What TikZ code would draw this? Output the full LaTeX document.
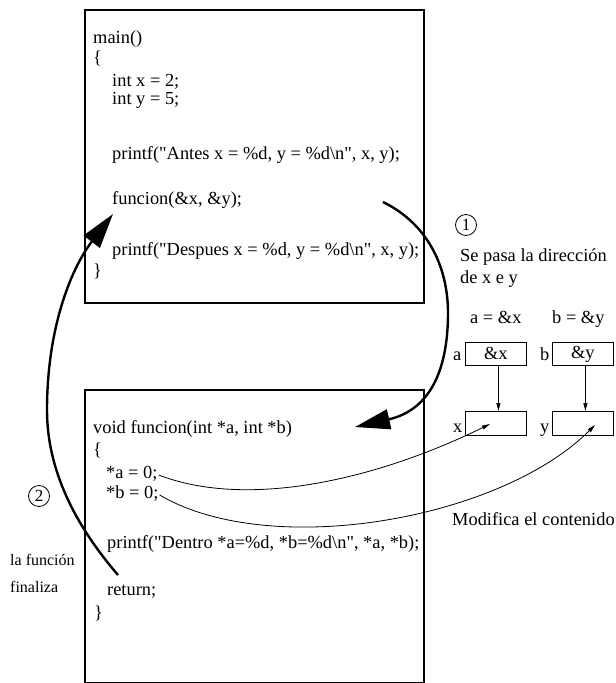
\documentclass[tikz,border=0pt]{standalone}
\usepackage{fontspec}
\newfontfamily\codefont{Liberation Serif}
\usetikzlibrary{arrows.meta}
\begin{document}
\begin{tikzpicture}[x=1pt,y=-1pt,
  code/.style={anchor=base west, inner sep=0pt, font=\codefont\fontsize{18.4}{21}\selectfont},
  small/.style={anchor=base west, inner sep=0pt, font=\codefont\fontsize{16}{18}\selectfont},
  bigbox/.style={draw, line width=2pt, anchor=north west, inner sep=0pt},
  cell/.style={draw, line width=0.8pt, anchor=north west, inner sep=0pt, minimum width=61pt, minimum height=23pt, font=\codefont\fontsize{18.4}{21}\selectfont},
  num/.style={draw, circle, line width=0.8pt, minimum size=21pt, inner sep=0pt, font=\codefont\fontsize{17}{19}\selectfont},
  bigarrow/.style={line width=2.4pt, -{Triangle[length=35pt,width=20pt]}},
  thinarrow/.style={line width=0.8pt, -{Triangle[length=8pt,width=4pt]}}]
\useasboundingbox (0,0) rectangle (616,683);
% boxes
\node[bigbox, minimum width=339pt, minimum height=293pt] (mainbox) at (84,9) {};
\node[bigbox, minimum width=339pt, minimum height=293pt] (funbox) at (84,389) {};
% main code
\node[code] (m1) at (93,43) {main()};
\node[code] (m2) at (93,63) {\{};
\node[code] (m3) at (112,86) {int x = 2;};
\node[code] (m4) at (112,104) {int y = 5;};
\node[code] (m5) at (112,159) {printf("Antes x = \%d, y = \%d\textbackslash n", x, y);};
\node[code] (m6) at (112,204) {funcion(\&x, \&y);};
\node[code] (m7) at (112,255) {printf("Despues x = \%d, y = \%d\textbackslash n", x, y);};
\node[code] (m8) at (93,276) {\}};
% funcion code
\node[code] (f1) at (93,433) {void funcion(int *a, int *b)};
\node[code] (f2) at (93,455) {\{};
\node[code] (f3) at (106,478) {*a = 0;};
\node[code] (f4) at (106,498) {*b = 0;};
\node[code] (f5) at (107,548) {printf("Dentro *a=\%d, *b=\%d\textbackslash n", *a, *b);};
\node[code] (f6) at (107,595) {return;};
\node[code] (f7) at (94,618) {\}};
% right side
\node[num] (n1) at (466,225) {1};
\node[code] (t1) at (460,261) {Se pasa la dirección};
\node[code] (t2) at (460,283) {de x e y};
\node[code] (t3) at (470,323) {a = \&x};
\node[code] (t4) at (552,323) {b = \&y};
\node[cell] (ca) at (465,342) {\&x};
\node[cell] (cb) at (552,342) {\&y};
\node[cell, minimum height=24pt] (cx) at (465,411) {};
\node[cell, minimum height=24pt] (cy) at (552,411) {};
\node[code] (la) at (453,360) {a};
\node[code] (lb) at (540,360) {b};
\node[code] (lx) at (453,432) {x};
\node[code] (ly) at (540,432) {y};
\node[code] (t5) at (452,525) {Modifica el contenido};
% left side
\node[num] (n2) at (39,496) {2};
\node[small] (t6) at (10,565) {la función};
\node[small] (t7) at (10,592) {finaliza};
% thin arrows
\draw[thinarrow] ([xshift=2.5pt]ca.south) -- ([xshift=2.5pt]cx.north);
\draw[thinarrow] ([xshift=2.5pt]cb.south) -- ([xshift=2.5pt]cy.north);
\coordinate (ea) at (490,424);
\coordinate (eb) at (595,425);
\path (f3.base east) ++(1,-3) coordinate (sa);
\path (f4.base east) ++(1,-3) coordinate (sb);
\draw[thinarrow] (sa) .. controls (250,510) and (380,478) .. (ea);
\draw[thinarrow] (sb) .. controls (270,560) and (500,520) .. (eb);
% big arrows
\coordinate (s1) at (383,202);
\coordinate (e1) at (355,427);
\draw[bigarrow] (s1) .. controls (430,225) and (448,270) .. (448,313) .. controls (448,370) and (430,410) .. (e1);
\coordinate (s2) at (118,575);
\coordinate (e2) at (113,214);
\draw[bigarrow] (s2) .. controls (75,525) and (47,470) .. (47,410) .. controls (47,330) and (70,270) .. (e2);
\end{tikzpicture}
\end{document}
